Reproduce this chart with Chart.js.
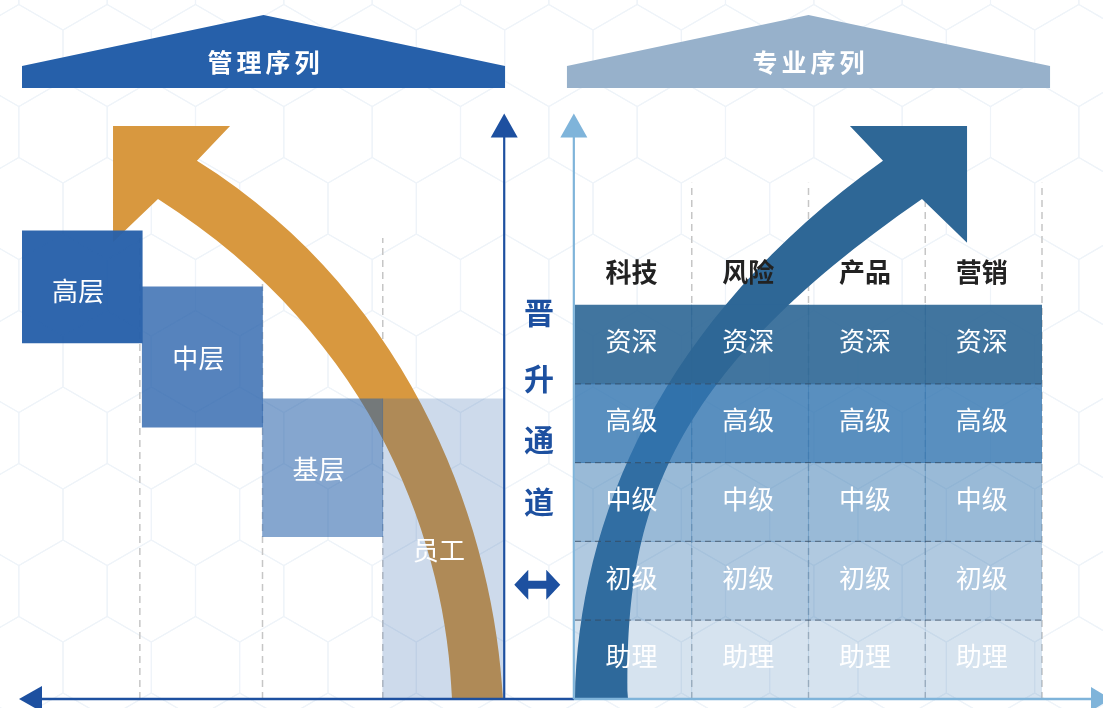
<!DOCTYPE html>
<html>
<head>
<meta charset="utf-8">
<script src="https://cdn.jsdelivr.net/npm/chart.js@4.4.1/dist/chart.umd.min.js"></script>
<style>
html,body{margin:0;padding:0;background:#fff;overflow:hidden}
#wrap{position:relative;width:1103px;height:708px}
#wrap canvas{position:absolute;left:0;top:0}
</style>
</head>
<body>
<div id="wrap">
<canvas id="mgmt" width="1103" height="708"></canvas>
<canvas id="prof" width="1103" height="708"></canvas>
</div>
<script>
// data
const mgmtLevels=['高层','中层','基层','员工'];
const mgmtFrom=[4.52,3.45,2.06,0];
const mgmtTo=[5.94,5.23,3.81,3.81];
const tracks=['科技','风险','产品','营销'];
const grades=['助理','初级','中级','高级','资深'];
const gradeSpan=[1,1,1,1,1];
const mgmtTitle='管理序列';
const profTitle='专业序列';
const channelTitle='晋升通道';

// styles
const FONT='"Noto Sans CJK SC","Noto Sans",sans-serif';
const mgmtColors=['rgba(38,96,170,0.96)','rgba(38,96,170,0.78)','rgba(38,96,170,0.56)','rgba(38,96,170,0.23)'];
const gradeColors=['rgba(51,117,176,0.2)','rgba(51,117,176,0.39)','rgba(51,117,176,0.5)','rgba(51,117,176,0.81)','rgba(46,103,150,0.91)'];
const DARK='#1D50A0', LIGHT='#7FB4DA';

// column/level units -> pixels, through the chart scales
function unit(chart){
  const xs=chart.scales.x, ys=chart.scales.y;
  const w=xs.getPixelForValue(1)-xs.getPixelForValue(0);
  const x0=xs.getPixelForValue(0)-w/2;
  return (c,l)=>[x0+c*w, ys.getPixelForValue(l)];
}

function hexBg(ctx,W,H){
  const s=51, hw=s*Math.sqrt(3);
  ctx.save();
  ctx.strokeStyle='#EFF4F9';ctx.lineWidth=1.2;
  for(let r=0;r<12;r++){
    const cy=-21+r*1.5*s;
    for(let k=-1;k<15;k++){
      const cx=63-hw+k*hw+(r%2?hw/2:0);
      ctx.beginPath();
      for(let i=0;i<6;i++){
        const a=Math.PI/180*(60*i-90);
        const px=cx+s*Math.cos(a), py=cy+s*Math.sin(a);
        i?ctx.lineTo(px,py):ctx.moveTo(px,py);
      }
      ctx.closePath();ctx.stroke();
    }
  }
  ctx.restore();
}

function banner(ctx,P,color,title){
  const [l,b]=P(...banner.l), [r]=P(...banner.r);
  ctx.save();
  ctx.fillStyle=color;
  ctx.beginPath();
  ctx.moveTo(l,b);ctx.lineTo(l,b-22);ctx.lineTo((l+r)/2,b-73);ctx.lineTo(r,b-22);ctx.lineTo(r,b);
  ctx.closePath();ctx.fill();
  ctx.fillStyle='#fff';ctx.font='bold 25px '+FONT;
  ctx.textAlign='center';ctx.textBaseline='middle';
  ctx.letterSpacing='4px';
  ctx.fillText(title,(l+r)/2+2,b-25);
  ctx.restore();
}

function dashV(ctx,P,cols,top){
  ctx.save();
  ctx.strokeStyle='#C6C6C6';ctx.lineWidth=1.5;ctx.setLineDash([7,5]);
  cols.forEach(c=>{
    const [x,y0]=P(c,0),[,y1]=P(c,top);
    ctx.beginPath();ctx.moveTo(x,y0);ctx.lineTo(x,y1);ctx.stroke();
  });
  ctx.restore();
}

function curvedArrow(ctx,P,edgeA,head,edgeB,color){
  const p=a=>P(a[0],a[1]);
  ctx.save();ctx.fillStyle=color;ctx.beginPath();
  ctx.moveTo(...p(edgeA[0]));
  ctx.bezierCurveTo(...p(edgeA[1]),...p(edgeA[2]),...p(edgeA[3]));
  head.forEach(h=>ctx.lineTo(...p(h)));
  ctx.lineTo(...p(edgeB[0]));
  ctx.bezierCurveTo(...p(edgeB[1]),...p(edgeB[2]),...p(edgeB[3]));
  ctx.closePath();ctx.fill();ctx.restore();
}

function vAxis(ctx,x,yb,yt,color){
  ctx.save();
  ctx.strokeStyle=color;ctx.fillStyle=color;ctx.lineWidth=2.2;
  ctx.beginPath();ctx.moveTo(x,yb);ctx.lineTo(x,yt+20);ctx.stroke();
  ctx.beginPath();ctx.moveTo(x,yt);ctx.lineTo(x-13.5,yt+24);ctx.lineTo(x+13.5,yt+24);ctx.closePath();ctx.fill();
  ctx.restore();
}

const mgmtPlugin={
  id:'mgmtDeco',
  beforeDraw(chart){hexBg(chart.ctx,chart.width,chart.height);},
  beforeDatasetsDraw(chart){
    const ctx=chart.ctx,P=unit(chart);
    banner.l=[0,7.754];banner.r=[4.017,7.754];
    banner(ctx,P,'#2660AA',mgmtTitle);
    dashV(ctx,P,[0.98,2.0,3.0],5.85);
    curvedArrow(ctx,P,
      [[3.576,0],[3.534,1.891],[2.977,4.556],[1.131,6.345]],
      [[0.757,5.80],[0.757,7.27],[1.730,7.27]],
      [[1.455,6.83],[3.31,5.06],[3.933,2.018],[4.0,0]],
      '#D8983F');
  },
  afterDatasetsDraw(chart){
    const ctx=chart.ctx,P=unit(chart);
    const meta=chart.getDatasetMeta(0);
    ctx.save();
    ctx.fillStyle='#fff';ctx.font='26px '+FONT;ctx.textAlign='center';ctx.textBaseline='middle';
    meta.data.forEach((el,i)=>ctx.fillText(mgmtLevels[i],el.x-4,(el.y+el.base)/2+(i===0?4:1)));
    ctx.restore();
    // axes
    const [ax,ab]=P(4.01,0),[,at]=P(4.01,7.43);
    vAxis(ctx,ax,ab,at,DARK);
    const [lx]=P(-0.025,0),[rx]=P(4.59,0);
    ctx.save();
    ctx.strokeStyle=DARK;ctx.fillStyle=DARK;ctx.lineWidth=2.6;
    ctx.beginPath();ctx.moveTo(lx+20,ab);ctx.lineTo(rx,ab);ctx.stroke();
    ctx.beginPath();ctx.moveTo(lx,ab);ctx.lineTo(lx+23,ab-13);ctx.lineTo(lx+23,ab+13);ctx.closePath();ctx.fill();
    // channel text
    ctx.font='bold 30px '+FONT;ctx.textAlign='center';ctx.textBaseline='middle';
    const lv=[4.90,4.07,3.29,2.50];
    [...channelTitle].forEach((ch,i)=>{const [x,y]=P(4.299,lv[i]);ctx.fillText(ch,x,y);});
    // double arrow
    const [cx,cy]=P(4.285,1.45);
    ctx.beginPath();
    ctx.moveTo(cx-23,cy);ctx.lineTo(cx-9,cy-15);ctx.lineTo(cx-9,cy-4);ctx.lineTo(cx+9,cy-4);ctx.lineTo(cx+9,cy-15);
    ctx.lineTo(cx+23,cy);ctx.lineTo(cx+9,cy+15);ctx.lineTo(cx+9,cy+4);ctx.lineTo(cx-9,cy+4);ctx.lineTo(cx-9,cy+15);
    ctx.closePath();ctx.fill();
    ctx.restore();
  }
};

const profPlugin={
  id:'profDeco',
  beforeDatasetsDraw(chart){
    const ctx=chart.ctx,P=unit(chart);
    banner.l=[-0.069,7.754];banner.r=[4.069,7.754];
    banner(ctx,P,'#97B1CB',profTitle);
    dashV(ctx,P,[1,2,3,4],6.55);
    curvedArrow(ctx,P,
      [[0,0],[0.026,2.27],[0.728,4.81],[2.638,6.83]],
      [[2.355,7.27],[3.358,7.27],[3.358,5.79]],
      [[2.972,6.345],[0.728,4.05],[0.428,2.27],[0.454,0]],
      '#2E6796');
  },
  afterDatasetsDraw(chart){
    const ctx=chart.ctx,P=unit(chart);
    ctx.save();
    // dashed row separators
    ctx.strokeStyle='rgba(55,65,80,0.55)';ctx.lineWidth=1.3;ctx.setLineDash([6,4]);
    for(let l=1;l<grades.length;l++){
      const [x0,y]=P(0,l),[x1]=P(4,l);
      ctx.beginPath();ctx.moveTo(x0,y);ctx.lineTo(x1,y);ctx.stroke();
    }
    ctx.setLineDash([]);
    // cell labels
    ctx.fillStyle='#fff';ctx.font='26px '+FONT;ctx.textAlign='center';ctx.textBaseline='middle';
    grades.forEach((g,d)=>{
      chart.getDatasetMeta(d).data.forEach(el=>ctx.fillText(g,el.x-2,(el.y+el.base)/2-3));
    });
    // headers
    ctx.fillStyle='#222';ctx.font='bold 26px '+FONT;
    chart.getDatasetMeta(0).data.forEach((el,i)=>{const [,y]=P(0,5.42);ctx.fillText(tracks[i],el.x-2,y);});
    ctx.restore();
    // axes
    const [ax,ab]=P(-0.01,0),[,at]=P(0,7.43);
    vAxis(ctx,ax,ab,at,LIGHT);
    ctx.save();
    ctx.strokeStyle=LIGHT;ctx.fillStyle=LIGHT;ctx.lineWidth=2.6;
    ctx.beginPath();ctx.moveTo(ax,ab);ctx.lineTo(chart.width-8,ab);ctx.stroke();
    ctx.beginPath();ctx.moveTo(chart.width+8,ab);ctx.lineTo(chart.width-12,ab-12);ctx.lineTo(chart.width-12,ab+12);ctx.closePath();ctx.fill();
    ctx.restore();
  }
};

function opts(padL,padR,stacked){
  return {
    responsive:false,animation:false,devicePixelRatio:1,
    layout:{padding:{left:padL,right:padR,top:108,bottom:9}},
    plugins:{legend:{display:false},tooltip:{enabled:false}},
    scales:{
      x:{display:false,stacked:stacked},
      y:{display:false,stacked:stacked,min:0,max:7.5}
    }
  };
}

new Chart(document.getElementById('mgmt'),{
  type:'bar',
  data:{
    labels:mgmtLevels,
    datasets:[{
      data:mgmtLevels.map((_,i)=>[mgmtFrom[i],mgmtTo[i]]),
      backgroundColor:mgmtColors,
      borderWidth:0,barPercentage:1,categoryPercentage:1
    }]
  },
  options:opts(22,600,false),
  plugins:[mgmtPlugin]
});

new Chart(document.getElementById('prof'),{
  type:'bar',
  data:{
    labels:tracks,
    datasets:grades.map((g,d)=>({
      label:g,
      data:tracks.map(()=>gradeSpan[d]),
      backgroundColor:gradeColors[d],
      borderWidth:0,barPercentage:1,categoryPercentage:1
    }))
  },
  options:opts(575,61,true),
  plugins:[profPlugin]
});
</script>
</body>
</html>
